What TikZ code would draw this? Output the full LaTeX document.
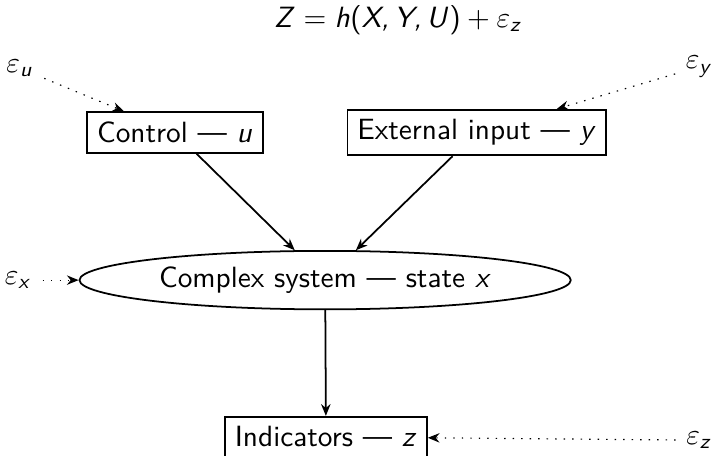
\documentclass[tikz,border=0pt]{standalone}
\usepackage{amsmath,amssymb}
\usepackage{tikz}
\usetikzlibrary{arrows.meta, shapes.geometric}
\renewcommand{\familydefault}{\sfdefault}
\DeclareSymbolFont{operators}{OT1}{cmss}{m}{n}
\DeclareSymbolFont{sfletters}{OT1}{cmss}{m}{sl}
\DeclareMathSymbol{X}{\mathalpha}{sfletters}{`X}
\DeclareMathSymbol{Y}{\mathalpha}{sfletters}{`Y}
\DeclareMathSymbol{Z}{\mathalpha}{sfletters}{`Z}
\DeclareMathSymbol{U}{\mathalpha}{sfletters}{`U}
\DeclareMathSymbol{h}{\mathalpha}{sfletters}{`h}
\DeclareMathSymbol{u}{\mathalpha}{sfletters}{`u}
\DeclareMathSymbol{x}{\mathalpha}{sfletters}{`x}
\DeclareMathSymbol{y}{\mathalpha}{sfletters}{`y}
\DeclareMathSymbol{z}{\mathalpha}{sfletters}{`z}
\DeclareMathSymbol{,}{\mathpunct}{sfletters}{`,}

\begin{document}
\begin{tikzpicture}[
  semithick, >={Stealth[length=4pt, width=3.2pt]},
  box/.style={draw, rectangle},
  sysnode/.style={draw, ellipse, inner xsep=2.6pt, inner ysep=2.5pt},
  flow/.style={->},
  noise/.style={thin, dash pattern=on 0.5pt off 2.4pt, ->}]
\useasboundingbox (0,0) rectangle (8.6,5.46);
\node (eq) at (4.78,5.22) {$Z = h(X, Y, U) + \varepsilon_z$};
\node[box] (ctrl) at (2.10,3.87) {Control --- $u$};
\node[box] (ext) at (5.72,3.87) {External input --- $y$};
\node[sysnode] (sys) at (3.90,2.10) {Complex system --- state $x$};
\node[box] (ind) at (3.91,0.22) {Indicators --- $z$};
\node (eu) at (0.24,4.64) {$\varepsilon_u$};
\node (ey) at (8.39,4.66) {$\varepsilon_y$};
\node (ex) at (0.22,2.10) {$\varepsilon_x$};
\node (ez) at (8.39,0.18) {$\varepsilon_z$};
\draw[flow] (ctrl) -- (sys);
\draw[flow] (ext) -- (sys);
\draw[flow] (sys) -- (ind);
\draw[noise] (eu) -- (ctrl);
\draw[noise] (ey) -- (ext);
\draw[noise] (ex) -- (sys);
\draw[noise] (ez) -- (ind);
\end{tikzpicture}
\end{document}
